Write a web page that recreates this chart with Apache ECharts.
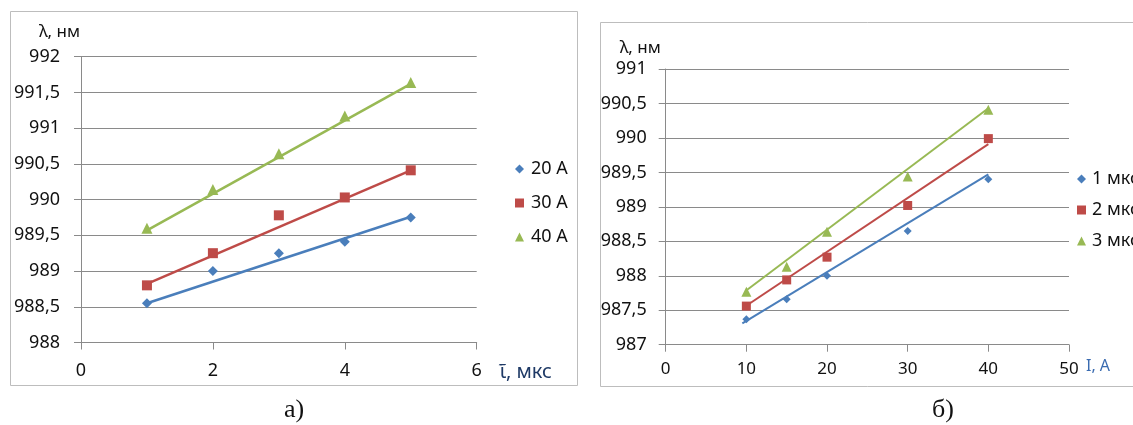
<!DOCTYPE html>
<html>
<head>
<meta charset="utf-8">
<script src="https://cdn.jsdelivr.net/npm/echarts@6/dist/echarts.min.js"></script>
<style>
  html, body { margin: 0; padding: 0; background: #ffffff; }
  #chart { width: 1133px; height: 425px; }
</style>
</head>
<body>
<div id="chart"></div>
<script>
// ---------- Data ----------
// Panel a): wavelength vs pulse duration
const tauValues = [1, 2, 3, 4, 5];
const a20 = [988.55, 989.00, 989.25, 989.41, 989.75];
const a30 = [988.80, 989.25, 989.78, 990.03, 990.41];
const a40 = [989.60, 990.14, 990.64, 991.17, 991.64];
// trend lines of panel a) (end points read from the picture)
const aTrendX = [1, 5];
const a20Trend = [988.55, 989.76];
const a30Trend = [988.82, 990.41];
const a40Trend = [989.57, 991.62];

// Panel б): wavelength vs current
const currentValues = [10, 15, 20, 30, 40];
const b1 = [987.37, 987.66, 988.00, 988.65, 989.40];
const b2 = [987.56, 987.94, 988.27, 989.02, 989.99];
const b3 = [987.77, 988.13, 988.64, 989.44, 990.41];
// trend lines of panel б)
const b1TrendX = [9.5, 40];
const b1Trend = [987.31, 989.47];
const b2TrendX = [9.8, 40];
const b2Trend = [987.55, 989.91];
const b3TrendX = [9.9, 40];
const b3Trend = [987.78, 990.43];

const namesA = ['20 A', '30 A', '40 A'];
const namesB = ['1 мкс', '2 мкс', '3 мкс'];

// ---------- Styles ----------
const FONT = 'Noto Sans';
const TXT = '#111111';
const GRID = '#8a8a8a';
const BLUE = '#4A7EBB', RED = '#BE4B48', GREEN = '#98B954';

const pairs = (xs, ys) => xs.map((x, i) => [x, ys[i]]);
const comma = v => String(v).replace('.', ',');

function markerSeries(name, xs, ys, color, symbol, size, axis) {
  return {
    name, type: 'scatter', xAxisIndex: axis, yAxisIndex: axis,
    symbol, symbolSize: size, itemStyle: { color, opacity: 1 },
    data: pairs(xs, ys), z: 3, silent: true
  };
}
function trendSeries(name, xs, ys, color, width, axis) {
  return {
    name, type: 'line', xAxisIndex: axis, yAxisIndex: axis,
    symbol: 'none', showSymbol: false, lineStyle: { color, width },
    data: pairs(xs, ys), z: 4, silent: true
  };
}

const chart = echarts.init(document.getElementById('chart'), null, { renderer: 'canvas' });

const yAxisBase = (min, max, nameGap, pad, margin) => ({
  type: 'value', min, max, interval: 0.5,
  name: 'λ, нм', nameLocation: 'end', nameGap,
  nameTextStyle: { fontFamily: FONT, fontSize: 17, color: TXT, align: 'right', verticalAlign: 'middle', padding: pad },
  axisLine: { show: true, lineStyle: { color: GRID, width: 1 } },
  axisTick: { show: true, inside: false, length: 7, lineStyle: { color: GRID } },
  axisLabel: { fontFamily: FONT, fontSize: 18, color: TXT, margin, formatter: comma },
  splitLine: { show: true, lineStyle: { color: GRID, width: 1 } }
});

const option = {
  animation: false,
  backgroundColor: '#ffffff',
  grid: [
    { left: 81, top: 56.7, width: 395.7, height: 285.8, containLabel: false },
    { left: 665.7, top: 69, width: 403.3, height: 275.7, containLabel: false }
  ],
  xAxis: [
    {
      gridIndex: 0, type: 'value', min: 0, max: 6, interval: 2,
      name: 'ῖ, мкс', nameLocation: 'end', nameGap: 23,
      nameTextStyle: { fontFamily: FONT, fontSize: 20, color: '#1F3A66', align: 'left', verticalAlign: 'top', padding: [20, 0, 0, 0] },
      axisLine: { show: true, onZero: false, lineStyle: { color: GRID } },
      axisTick: { show: true, length: 7, lineStyle: { color: GRID } },
      axisLabel: { fontFamily: FONT, fontSize: 18, color: TXT, margin: 19 },
      splitLine: { show: false }
    },
    {
      gridIndex: 1, type: 'value', min: 0, max: 50, interval: 10,
      name: 'I, A', nameLocation: 'end', nameGap: 17,
      nameTextStyle: { fontFamily: FONT, fontSize: 16, color: '#3A6BB0', align: 'left', verticalAlign: 'top', padding: [14, 0, 0, 0] },
      axisLine: { show: true, onZero: false, lineStyle: { color: GRID } },
      axisTick: { show: true, length: 7, lineStyle: { color: GRID } },
      axisLabel: { fontFamily: FONT, fontSize: 17, color: TXT, margin: 16 },
      splitLine: { show: false }
    }
  ],
  yAxis: [
    Object.assign(yAxisBase(988, 992, 24.7, [0, 1, 0, 0], 21), { gridIndex: 0 }),
    Object.assign(yAxisBase(987, 991, 21.3, [0, 5, 0, 0], 19), { gridIndex: 1 })
  ],
  legend: [
    {
      orient: 'vertical', left: 510, top: 154, itemWidth: 9, itemHeight: 9, itemGap: 14,
      selectedMode: false,
      data: [{ name: namesA[0], icon: 'diamond' }, { name: namesA[1], icon: 'rect' }, { name: namesA[2], icon: 'triangle' }],
      textStyle: { fontFamily: FONT, fontSize: 18, color: TXT, lineHeight: 20, padding: [0, 0, 0, 2] }
    },
    {
      orient: 'vertical', left: 1072, top: 164, itemWidth: 9, itemHeight: 9, itemGap: 11,
      selectedMode: false,
      data: [{ name: namesB[0], icon: 'diamond' }, { name: namesB[1], icon: 'rect' }, { name: namesB[2], icon: 'triangle' }],
      textStyle: { fontFamily: FONT, fontSize: 18, color: TXT, lineHeight: 20, padding: [0, 0, 0, 1] }
    }
  ],
  series: [
    markerSeries(namesA[0], tauValues, a20, BLUE, 'diamond', 10, 0),
    markerSeries(namesA[1], tauValues, a30, RED, 'rect', 10, 0),
    markerSeries(namesA[2], tauValues, a40, GREEN, 'triangle', 11, 0),
    trendSeries('20 A trend', aTrendX, a20Trend, BLUE, 2.5, 0),
    trendSeries('30 A trend', aTrendX, a30Trend, RED, 2.5, 0),
    trendSeries('40 A trend', aTrendX, a40Trend, GREEN, 2.5, 0),
    markerSeries(namesB[0], currentValues, b1, BLUE, 'diamond', 8, 1),
    markerSeries(namesB[1], currentValues, b2, RED, 'rect', 9, 1),
    markerSeries(namesB[2], currentValues, b3, GREEN, 'triangle', 10, 1),
    trendSeries('1 мкс trend', b1TrendX, b1Trend, BLUE, 2, 1),
    trendSeries('2 мкс trend', b2TrendX, b2Trend, RED, 2, 1),
    trendSeries('3 мкс trend', b3TrendX, b3Trend, GREEN, 2, 1)
  ],
  graphic: [
    { type: 'rect', shape: { x: 10.5, y: 11.5, width: 567, height: 374 }, style: { fill: 'none', stroke: '#BDBDBD', lineWidth: 1 }, z: -1, silent: true },
    { type: 'rect', shape: { x: 600.5, y: 22.5, width: 560, height: 364 }, style: { fill: 'none', stroke: '#BDBDBD', lineWidth: 1 }, z: -1, silent: true },
    { type: 'text', x: 294, y: 410, style: { text: 'а)', fontFamily: 'Liberation Serif', fontSize: 26, fill: '#111', align: 'center', verticalAlign: 'middle' }, silent: true },
    { type: 'text', x: 943, y: 410, style: { text: 'б)', fontFamily: 'Liberation Serif', fontSize: 26, fill: '#111', align: 'center', verticalAlign: 'middle' }, silent: true }
  ]
};

chart.setOption(option);
</script>
</body>
</html>
